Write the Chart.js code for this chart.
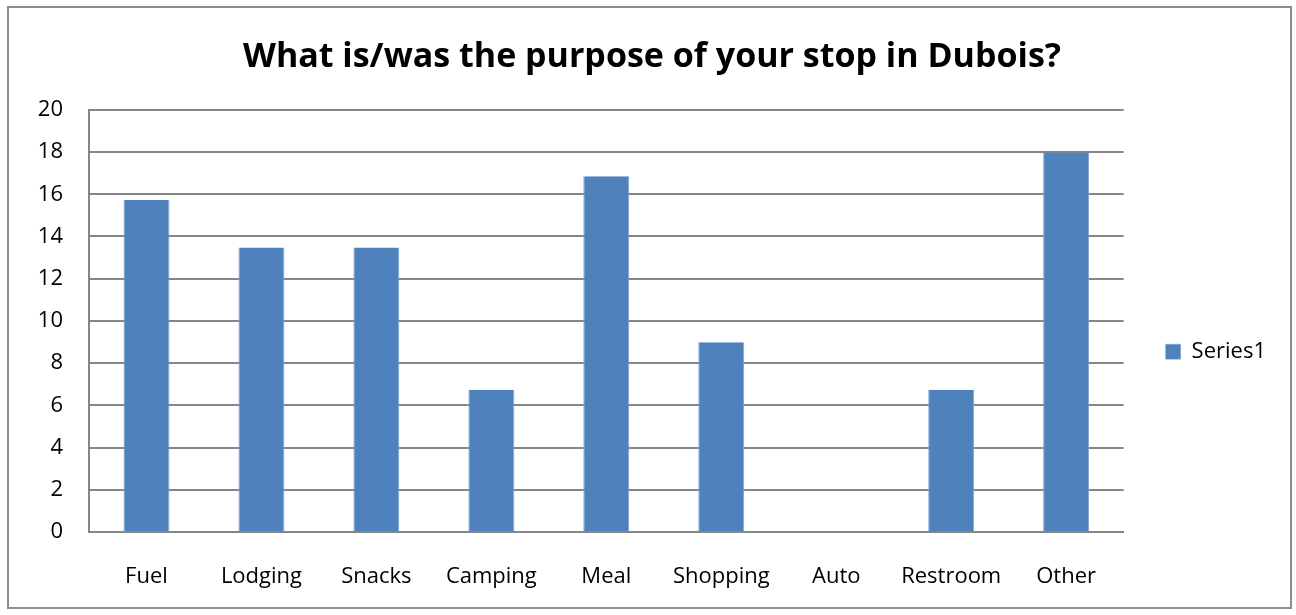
<!DOCTYPE html>
<html>
<head>
<meta charset="utf-8">
<script src="https://cdn.jsdelivr.net/npm/chart.js@4/dist/chart.umd.min.js"></script>
<style>
  html, body { margin: 0; padding: 0; background: #ffffff; }
  #wrap { width: 1296px; height: 615px; position: relative; }
</style>
</head>
<body>
<div id="wrap"><canvas id="c" width="1296" height="615"></canvas></div>
<script>
// Survey answers: share of respondents by purpose of stop
const categories = ['Fuel', 'Lodging', 'Snacks', 'Camping', 'Meal', 'Shopping', 'Auto', 'Restroom', 'Other'];
const series1 = [15.73, 13.48, 13.48, 6.74, 16.85, 8.99, 0, 6.74, 17.98];
const yTicks = [0, 2, 4, 6, 8, 10, 12, 14, 16, 18, 20];

const FONT = '"Open Sans", "Noto Sans", "Liberation Sans", sans-serif';

// Outer frame around the whole chart
const frame = {
  id: 'frame',
  beforeDraw(chart) {
    const ctx = chart.ctx;
    ctx.save();
    ctx.fillStyle = '#ffffff';
    ctx.fillRect(0, 0, chart.width, chart.height);
    ctx.strokeStyle = '#8c8c8c';
    ctx.lineWidth = 2;
    ctx.strokeRect(8, 7, 1283, 601);
    ctx.restore();
  }
};

new Chart(document.getElementById('c'), {
  type: 'bar',
  data: {
    labels: categories,
    datasets: [{
      label: 'Series1',
      data: series1,
      backgroundColor: '#4f81bd',
      borderColor: '#7ea6d8',
      borderWidth: { left: 1, right: 1, top: 0, bottom: 0 },
      barPercentage: 0.4,
      categoryPercentage: 1.0
    }]
  },
  options: {
    responsive: false,
    animation: false,
    layout: { padding: { left: 28, right: 20, top: 22, bottom: 20 } },
    plugins: {
      title: {
        display: true,
        text: 'What is/was the purpose of your stop in Dubois?',
        color: '#000000',
        font: { family: FONT, size: 34, weight: 'bold' },
        padding: { top: 15, bottom: 32 }
      },
      legend: {
        position: 'right',
        // blank legend heading pushes the single entry a little lower
        title: { display: true, text: ' ', font: { family: FONT, size: 22 }, padding: { top: 60, bottom: 0 } },
        labels: {
          color: '#000000',
          font: { family: FONT, size: 22 },
          boxWidth: 15,
          boxHeight: 15,
          padding: 42
        }
      },
      tooltip: { enabled: false }
    },
    scales: {
      x: {
        grid: { display: false, drawTicks: false },
        border: { color: '#868686', width: 2 },
        ticks: { color: '#000000', font: { family: FONT, size: 22 }, padding: 32 },
        afterFit(scale) { scale.height = 63; }
      },
      y: {
        min: 0,
        max: 20,
        afterBuildTicks(scale) { scale.ticks = yTicks.map(v => ({ value: v })); },
        grid: { color: '#868686', lineWidth: 2, drawTicks: false },
        border: { color: '#868686', width: 2 },
        ticks: { color: '#000000', font: { family: FONT, size: 22 }, padding: 26 },
        afterFit(scale) { scale.width = 61; }
      }
    }
  },
  plugins: [frame]
});
</script>
</body>
</html>
